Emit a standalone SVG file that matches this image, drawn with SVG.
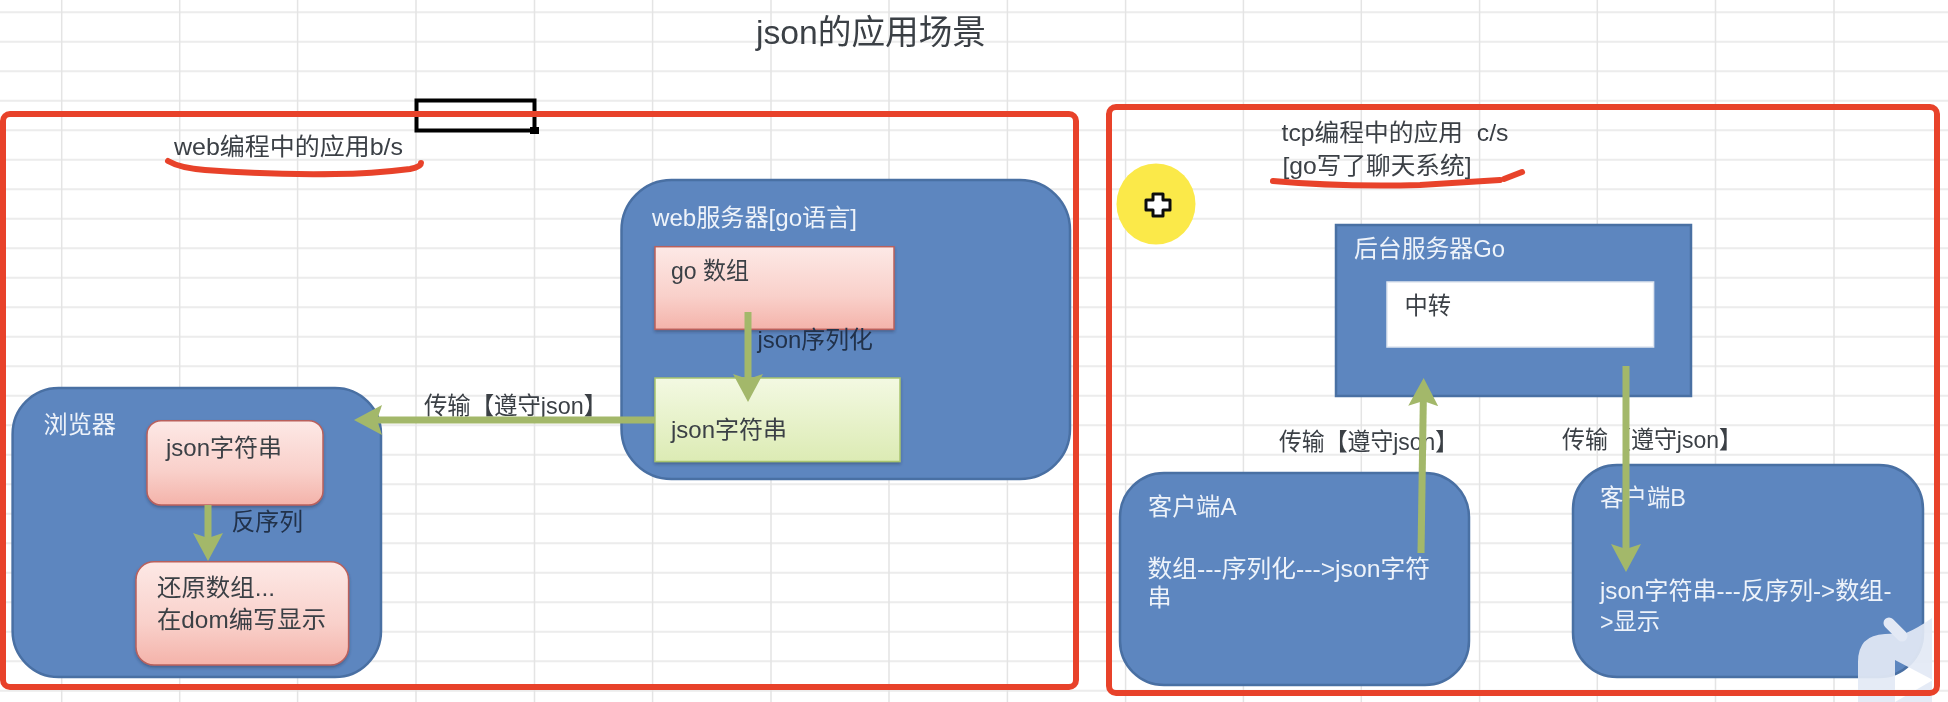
<svg xmlns="http://www.w3.org/2000/svg" width="1948" height="702" viewBox="0 0 1948 702">
<style>
text{font-family:"Liberation Sans","Noto Sans CJK SC",sans-serif;font-size:24px;white-space:pre}
.k{fill:#3a3f45}.d{fill:#20304a}.w{fill:#eef3fa}
.blue{fill:#5d86bf;stroke:#4a6fa3;stroke-width:2.5}
.pink{fill:url(#pk);stroke:#b9605c;stroke-width:1.5;filter:url(#sh)}
.green{fill:url(#gr);stroke:#a8c46e;stroke-width:1.5;filter:url(#sh)}
.red{fill:none;stroke:#e8432a;stroke-width:6}
.ink{fill:none;stroke:#e8432a;stroke-width:6;stroke-linecap:round;stroke-linejoin:round}
.arr{fill:none;stroke:#a3b86b;stroke-width:7;marker-end:url(#ah)}
</style>
<defs>
<linearGradient id="pk" x1="0" y1="0" x2="0" y2="1"><stop offset="0" stop-color="#fde9e6"/><stop offset=".6" stop-color="#f9d0ca"/><stop offset="1" stop-color="#f4b3aa"/></linearGradient>
<linearGradient id="gr" x1="0" y1="0" x2="0" y2="1"><stop offset="0" stop-color="#f3f9e2"/><stop offset="1" stop-color="#dcebb4"/></linearGradient>
<filter id="sh" x="-5%" y="-5%" width="110%" height="115%"><feDropShadow dx="0" dy="2" stdDeviation="1.5" flood-color="#20304a" flood-opacity=".4"/></filter>
<filter id="soft" filterUnits="userSpaceOnUse" x="0" y="0" width="1948" height="702"><feGaussianBlur stdDeviation=".6"/></filter>
<marker id="ah" viewBox="0 0 28 30" refX="18" refY="15" markerWidth="28" markerHeight="30" markerUnits="userSpaceOnUse" orient="auto"><path d="M0,0 L28,15 L0,30 L5,15 Z" fill="#a3b86b"/></marker>
</defs>
<rect width="1948" height="702" fill="#fff"/>
<g filter="url(#soft)">
<g id="grid" fill="none">
<path stroke="#ececec" stroke-width="2" d="M0,12.3H1948M0,41.8H1948M0,71.3H1948M0,100.8H1948M0,130.3H1948M0,159.8H1948M0,189.3H1948M0,218.8H1948M0,248.3H1948M0,277.8H1948M0,307.3H1948M0,336.8H1948M0,366.3H1948M0,395.8H1948M0,425.3H1948M0,454.8H1948M0,484.3H1948M0,513.8H1948M0,543.3H1948M0,572.8H1948M0,602.3H1948M0,631.8H1948M0,661.3H1948M0,690.8H1948"/>
<path stroke="#e4e4e4" stroke-width="1.5" d="M61.7,0V702M179.7,0V702M297.6,0V702M416,0V702M534.5,0V702M652.6,0V702M771,0V702M889,0V702M1007.4,0V702M1125.6,0V702M1243.4,0V702M1361.3,0V702M1479.6,0V702M1597.3,0V702M1715.5,0V702M1834,0V702"/>
</g>
<rect id="cell-cursor" x="416.5" y="100.5" width="118" height="30" fill="none" stroke="#000" stroke-width="4"/>
<rect id="cell-handle" x="530" y="127" width="9" height="7" fill="#000"/>
<g id="highlight-cursor">
<ellipse cx="1156" cy="204" rx="39.5" ry="40.5" fill="#fbe94a"/>
<path d="M1153,194h10v6h7v10h-7v6h-10v-6h-7v-10h7z" fill="#fff" stroke="#111" stroke-width="3" stroke-linejoin="round"/>
</g>
<g id="title"><text x="756" y="44" style="font-size:34px" fill="#3a3f45" textLength="230" lengthAdjust="spacingAndGlyphs">json的应用场景</text></g>
<g id="panel-web">
<text class="k" x="174" y="155" textLength="229" lengthAdjust="spacingAndGlyphs">web编程中的应用b/s</text>
</g>
<g id="panel-tcp">
<text class="k" x="1281.5" y="141" textLength="227" lengthAdjust="spacingAndGlyphs">tcp编程中的应用  c/s</text>
<text class="k" x="1282.5" y="174" textLength="189" lengthAdjust="spacingAndGlyphs">[go写了聊天系统]</text>
</g>
<g id="node-web-server"><rect class="blue" x="621.5" y="180" width="448.5" height="299" rx="50"/><text class="w" x="652" y="226" textLength="205" lengthAdjust="spacingAndGlyphs">web服务器[go语言]</text></g>
<g id="node-go-array"><rect class="pink" x="655" y="246.7" width="239" height="82.6"/><text class="k" x="671" y="279" textLength="78" lengthAdjust="spacingAndGlyphs">go 数组</text></g>
<g id="node-json-string"><rect class="green" x="655" y="378" width="245" height="83.5"/><text class="k" x="671" y="438" textLength="116" lengthAdjust="spacingAndGlyphs">json字符串</text></g>
<g id="node-browser"><rect class="blue" x="12.6" y="388" width="368.4" height="289" rx="46"/><text class="w" x="43.5" y="433" textLength="72.5" lengthAdjust="spacingAndGlyphs">浏览器</text></g>
<g id="node-browser-json"><rect class="pink" x="147" y="420.7" width="176" height="84.3" rx="14"/><text class="k" x="166" y="456" textLength="116" lengthAdjust="spacingAndGlyphs">json字符串</text></g>
<g id="node-restore"><rect class="pink" x="136" y="561.7" width="212.6" height="103.3" rx="18"/><text class="k" x="157" y="596" textLength="118" lengthAdjust="spacingAndGlyphs">还原数组...</text><text class="k" x="157" y="628" textLength="169" lengthAdjust="spacingAndGlyphs">在dom编写显示</text></g>
<g id="node-backend"><rect class="blue" x="1336" y="225" width="355" height="171"/><text class="w" x="1354" y="257" textLength="151" lengthAdjust="spacingAndGlyphs">后台服务器Go</text></g>
<g id="node-relay"><rect x="1387" y="282" width="266.6" height="65" fill="#fff" stroke="#dfe6f0" stroke-width="1.5"/><text class="k" x="1404.6" y="314" textLength="46.5" lengthAdjust="spacingAndGlyphs">中转</text></g>
<g id="node-client-a"><rect class="blue" x="1120" y="473" width="349" height="212" rx="44"/><text class="w" x="1148" y="515" textLength="88.5" lengthAdjust="spacingAndGlyphs">客户端A</text><text class="w" x="1147.5" y="577" textLength="282.5" lengthAdjust="spacingAndGlyphs">数组---序列化---&gt;json字符</text><text class="w" x="1147.5" y="606">串</text></g>
<g id="node-client-b"><rect class="blue" x="1573" y="465" width="350" height="212" rx="44"/><text class="w" x="1600" y="506" textLength="86" lengthAdjust="spacingAndGlyphs">客户端B</text><text class="w" x="1600" y="599" textLength="291.5" lengthAdjust="spacingAndGlyphs">json字符串---反序列-&gt;数组-</text><text class="w" x="1600" y="630" textLength="60" lengthAdjust="spacingAndGlyphs">&gt;显示</text></g>
<g id="labels">
<text class="d" x="757.5" y="348" textLength="115.5" lengthAdjust="spacingAndGlyphs">json序列化</text>
<text class="k" x="424" y="414" textLength="183" lengthAdjust="spacingAndGlyphs">传输【遵守json】</text>
<text class="d" x="231.5" y="530" textLength="71.5" lengthAdjust="spacingAndGlyphs">反序列</text>
<text class="k" x="1279" y="450" textLength="179" lengthAdjust="spacingAndGlyphs">传输【遵守json】</text>
<text class="k" x="1562" y="448" textLength="180" lengthAdjust="spacingAndGlyphs">传输【遵守json】</text>
</g>
<g id="connectors">
<line class="arr" x1="748" y1="312" x2="748" y2="392"/>
<line class="arr" x1="655" y1="420" x2="364" y2="420"/>
<line class="arr" x1="208" y1="505" x2="208" y2="551"/>
<line class="arr" x1="1421" y1="553" x2="1423.5" y2="388"/>
<line class="arr" x1="1626" y1="366" x2="1626" y2="562"/>
</g>
<g id="watermark">
<path d="M1858,702V662Q1858,635 1885,634L1906,633Q1918,628 1932,618V702Z M1895,660L1895,702L1933,680Z" fill="#e3e9f5" fill-opacity=".92" fill-rule="evenodd"/>
<path d="M1889,623L1902,636" stroke="#e3e9f5" stroke-width="11" stroke-linecap="round"/>
</g>
<g id="annotations">
<rect class="red" x="3" y="114" width="1073" height="573" rx="7"/>
<rect class="red" x="1109" y="107" width="828" height="586" rx="7"/>
<path class="ink" d="M168,161Q180,168 205,170Q270,175 335,174Q370,174 410,169Q421,167 421,163"/>
<path class="ink" d="M1273,181Q1340,187 1420,185L1500,180"/>
<path class="ink" d="M1504,179L1522,172"/>
</g>
</g>
</svg>
